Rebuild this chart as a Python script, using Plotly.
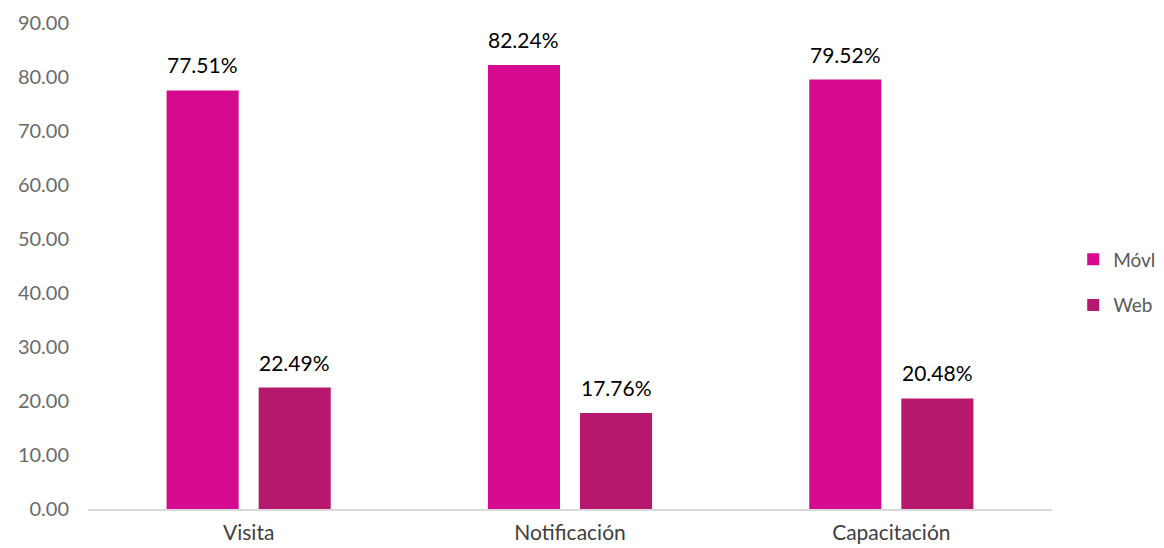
import plotly.graph_objects as go

categories = ["Visita", "Notificación", "Capacitación"]
movil = [77.51, 82.24, 79.52]
web = [22.49, 17.76, 20.48]
series_names = ["Móvl", "Web"]
tick_vals = [0, 10, 20, 30, 40, 50, 60, 70, 80, 90]

C_MOVIL = "#D60A8F"
C_WEB = "#B5186D"
FONT = "Lato, 'Open Sans', sans-serif"
bargap = 0.427
bargroupgap = 0.217

fig = go.Figure()
idx = list(range(len(categories)))
fig.add_trace(go.Bar(x=idx, y=movil, name=series_names[0], marker_color=C_MOVIL,
                     legendgroup="a", marker_line_width=0))
fig.add_trace(go.Bar(x=idx, y=web, name=series_names[1], marker_color=C_WEB,
                     legendgroup="b", marker_line_width=0))

slot = (1 - bargap) / 2
for vals, off in ((movil, -slot / 2), (web, slot / 2)):
    for i, v in enumerate(vals):
        fig.add_annotation(x=i + off, y=v, xref="x", yref="y", text=f"{v:.2f}%",
                           showarrow=False, yanchor="bottom", yshift=11,
                           font=dict(size=21, color="#000000", family=FONT))

fig.update_layout(
    width=1156, height=540,
    margin=dict(l=80, r=112, t=15, b=39, autoexpand=False),
    paper_bgcolor="white", plot_bgcolor="white",
    barmode="group", bargap=bargap, bargroupgap=bargroupgap,
    font=dict(family=FONT, color="#595959", size=18),
    legend=dict(x=1.022, y=0.466, xanchor="left", yanchor="middle",
                font=dict(size=19, color="#595959"), tracegroupgap=18,
                itemwidth=30),
    showlegend=True,
)
fig.update_xaxes(tickmode="array", tickvals=idx, ticktext=categories,
                 range=[-0.5, len(categories) - 0.5],
                 showline=True, linecolor="#D9D9D9", linewidth=1.5,
                 ticks="", showgrid=False, ticklabelstandoff=4,
                 tickfont=dict(size=21, color="#404040"))
fig.update_yaxes(range=[0, 90], tickvals=tick_vals,
                 ticktext=[f"{t:.2f}" for t in tick_vals],
                 showgrid=False, zeroline=False, showline=False, ticks="",
                 ticklabelstandoff=18,
                 tickfont=dict(size=20, color="#6b6b6b"))

fig.write_html("out.html")
